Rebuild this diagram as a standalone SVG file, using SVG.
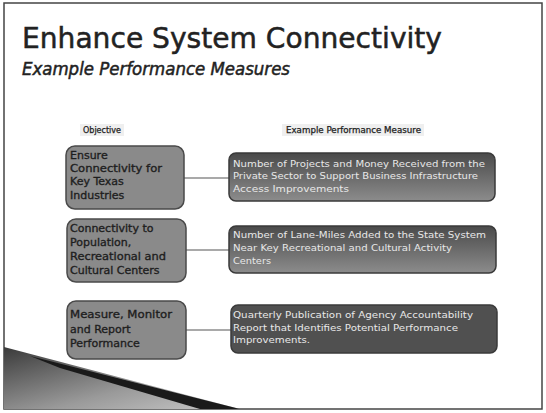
<svg xmlns="http://www.w3.org/2000/svg" width="546" height="413" viewBox="0 0 546 413">
<defs>
<linearGradient id="mg" x1="0" y1="0" x2="0" y2="1">
<stop offset="0" stop-color="#4a4a4a"/>
<stop offset="1" stop-color="#8c8c8c"/>
</linearGradient>
<linearGradient id="tri" x1="0" y1="0" x2="1" y2="1">
<stop offset="0" stop-color="#3a3a3a"/>
<stop offset="0.6" stop-color="#9a9a9a"/>
<stop offset="1" stop-color="#c8c8c8"/>
</linearGradient>
</defs>
<style>
.obj{fill:#8a8a8a;stroke:#4a4a4a;stroke-width:1.5}
.mea{fill:url(#mg);stroke:#3a3a3a;stroke-width:1.5}
.ot{font-family:"DejaVu Sans",sans-serif;font-size:11px;fill:#1e1e1e;stroke:#1e1e1e;stroke-width:0.35}
.mt{font-family:"DejaVu Sans",sans-serif;font-size:9.5px;fill:#e8e8e8}
.hd{font-family:"DejaVu Sans",sans-serif;font-size:8px;fill:#222;stroke:#222;stroke-width:0.25}
.cn{stroke:#555;stroke-width:1.2;fill:none}
</style>
<rect x="0" y="0" width="546" height="413" fill="#fff"/>
<rect x="4" y="3" width="538" height="406" fill="#fff" stroke="#444" stroke-width="1.5"/>
<g id="decoration">
<polygon points="4,347 240,409 4,409" fill="url(#tri)"/>
<polygon points="30,356 240,409 200,409 60,368" fill="#1a1a1a"/>
</g>
<g id="title">
<text x="22" y="48" font-family="DejaVu Sans,sans-serif" font-size="28" fill="#222" stroke="#222" stroke-width="0.5" textLength="420" lengthAdjust="spacingAndGlyphs">Enhance System Connectivity</text>
<text x="22" y="75" font-family="DejaVu Sans,sans-serif" font-size="17" font-style="italic" fill="#222" stroke="#222" stroke-width="0.5" textLength="268" lengthAdjust="spacingAndGlyphs">Example Performance Measures</text>
</g>
<g id="headers">
<rect x="80" y="124" width="44" height="12" fill="#efefef"/>
<text class="hd" x="83" y="133" textLength="38" lengthAdjust="spacingAndGlyphs">Objective</text>
<rect x="282" y="124" width="142" height="12" fill="#efefef"/>
<text class="hd" x="286" y="133" textLength="135" lengthAdjust="spacingAndGlyphs">Example Performance Measure</text>
</g>
<g id="connectors">
<line class="cn" x1="184" y1="178" x2="229" y2="178"/>
<line class="cn" x1="186" y1="250" x2="229" y2="250"/>
<line class="cn" x1="186" y1="330" x2="231" y2="330"/>
</g>
<g id="obj1">
<rect class="obj" x="66" y="146" width="118" height="63" rx="9"/>
<text class="ot"><tspan x="70" y="159">Ensure</tspan><tspan x="70" y="172" textLength="92" lengthAdjust="spacingAndGlyphs">Connectivity for</tspan><tspan x="70" y="185">Key Texas</tspan><tspan x="70" y="199">Industries</tspan></text>
</g>
<g id="obj2">
<rect class="obj" x="67" y="219" width="119" height="63" rx="9"/>
<text class="ot"><tspan x="70" y="232">Connectivity to</tspan><tspan x="70" y="246">Population,</tspan><tspan x="70" y="260" textLength="96" lengthAdjust="spacingAndGlyphs">Recreational and</tspan><tspan x="70" y="274">Cultural Centers</tspan></text>
</g>
<g id="obj3">
<rect class="obj" x="67" y="301" width="119" height="58" rx="9"/>
<text class="ot"><tspan x="70" y="318" textLength="102" lengthAdjust="spacingAndGlyphs">Measure, Monitor</tspan><tspan x="70" y="333">and Report</tspan><tspan x="70" y="347">Performance</tspan></text>
</g>
<g id="mea1">
<rect class="mea" x="229" y="153" width="266" height="48" rx="7"/>
<text class="mt"><tspan x="233" y="167" textLength="252" lengthAdjust="spacingAndGlyphs">Number of Projects and Money Received from the</tspan><tspan x="233" y="179" textLength="245" lengthAdjust="spacingAndGlyphs">Private Sector to Support Business Infrastructure</tspan><tspan x="233" y="192" textLength="116" lengthAdjust="spacingAndGlyphs">Access Improvements</tspan></text>
</g>
<g id="mea2">
<rect class="mea" x="229" y="226" width="267" height="47" rx="7"/>
<text class="mt"><tspan x="233" y="238" textLength="253" lengthAdjust="spacingAndGlyphs">Number of Lane-Miles Added to the State System</tspan><tspan x="233" y="251" textLength="219" lengthAdjust="spacingAndGlyphs">Near Key Recreational and Cultural Activity</tspan><tspan x="233" y="264" textLength="38" lengthAdjust="spacingAndGlyphs">Centers</tspan></text>
</g>
<g id="mea3">
<rect class="mea" x="231" y="305" width="266" height="48" rx="7" style="fill:#505050"/>
<text class="mt"><tspan x="233" y="318" textLength="240" lengthAdjust="spacingAndGlyphs">Quarterly Publication of Agency Accountability</tspan><tspan x="233" y="331" textLength="225" lengthAdjust="spacingAndGlyphs">Report that Identifies Potential Performance</tspan><tspan x="233" y="343" textLength="77" lengthAdjust="spacingAndGlyphs">Improvements.</tspan></text>
</g>
</svg>
